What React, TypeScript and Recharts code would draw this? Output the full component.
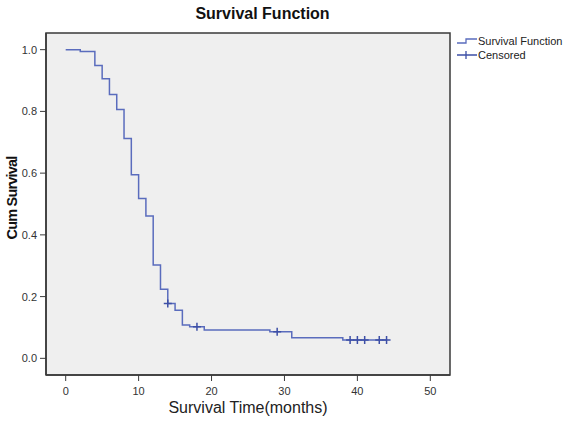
import React from 'react';
import { ComposedChart, Line, Scatter, XAxis, YAxis, ReferenceArea, Label } from 'recharts';

// Kaplan-Meier estimate: step times (months) and cumulative survival after each step
const times = [0, 2, 4, 5, 6, 7, 8, 9, 10, 11, 12, 13, 14, 15, 16, 17, 19, 28, 31, 38, 44];
const survival = [1.0, 0.994, 0.949, 0.906, 0.855, 0.806, 0.712, 0.595, 0.518, 0.461, 0.302, 0.224, 0.178, 0.156, 0.108, 0.102, 0.092, 0.086, 0.067, 0.059, 0.059];
const censoredTimes = [14, 18, 29, 39, 40, 41, 43, 44];

const xTicks = [0, 10, 20, 30, 40, 50];
const yTicks = [0, 0.2, 0.4, 0.6, 0.8, 1.0];
const xDomain: [number, number] = [-2.7, 52.7];
const yDomain: [number, number] = [-0.054, 1.054];

const LINE_COLOR = '#5a6cbd';
const CENSOR_COLOR = '#3d4fa6';
const AXIS_COLOR = '#3a3a3a';

const curve = times.map((t, i) => ({ t, s: survival[i] }));

// survival value in effect at time t (right-continuous step)
const survivalAt = (t: number) => {
  let s = survival[0];
  times.forEach((x, i) => {
    if (x <= t) s = survival[i];
  });
  return s;
};

const censored = censoredTimes.map((t) => ({ t, s: survivalAt(t) }));

const CensorMark = (props: any) => {
  const { cx, cy } = props;
  return (
    <path
      d={`M${cx - 4},${cy}H${cx + 4}M${cx},${cy - 4}V${cy + 4}`}
      stroke={CENSOR_COLOR}
      strokeWidth={1.5}
      fill="none"
    />
  );
};

const LegendBox = () => (
  <div style={{ position: 'absolute', left: 456, top: 34, fontSize: 11, color: '#222', lineHeight: '13px' }}>
    <div style={{ display: 'flex', alignItems: 'center', height: 14 }}>
      <svg width={22} height={10}>
        <path d="M1,7H10V3H21" stroke={LINE_COLOR} strokeWidth={1.3} fill="none" />
      </svg>
      <span>Survival Function</span>
    </div>
    <div style={{ display: 'flex', alignItems: 'center', height: 14 }}>
      <svg width={22} height={10}>
        <path d="M1,5H21M10,1V9" stroke={CENSOR_COLOR} strokeWidth={1.3} fill="none" />
      </svg>
      <span>Censored</span>
    </div>
  </div>
);

const App = () => {
  return (
    <div
      style={{
        position: 'absolute',
        left: 0,
        top: 0,
        width: 566,
        height: 422,
        background: '#fff',
        fontFamily: '"Liberation Sans", Arial, sans-serif',
      }}
    >
      <div
        style={{
          position: 'absolute',
          left: 0,
          top: 5,
          width: 525,
          textAlign: 'center',
          fontSize: 16,
          fontWeight: 'bold',
          color: '#111',
        }}
      >
        Survival Function
      </div>
      <LegendBox />
      <ComposedChart width={566} height={422} margin={{ top: 33, right: 116, bottom: 0, left: 0 }}>
        <ReferenceArea
          x1={xDomain[0]}
          x2={xDomain[1]}
          y1={yDomain[0]}
          y2={yDomain[1]}
          fill="#efefef"
          fillOpacity={1}
          stroke={AXIS_COLOR}
          strokeWidth={1.5}
          ifOverflow="visible"
        />
        <XAxis
          dataKey="t"
          type="number"
          domain={xDomain}
          ticks={xTicks}
          allowDataOverflow
          height={47}
          tickSize={6}
          tickMargin={6}
          axisLine={{ stroke: AXIS_COLOR, strokeWidth: 1.5 }}
          tickLine={{ stroke: AXIS_COLOR }}
          tick={{ fontSize: 11, fill: '#333' }}
        >
          <Label
            value="Survival Time(months)"
            position="insideBottom"
            offset={9}
            style={{ fontSize: 16, fill: '#222' }}
          />
        </XAxis>
        <YAxis
          dataKey="s"
          type="number"
          domain={yDomain}
          ticks={yTicks}
          allowDataOverflow
          width={46}
          tickSize={6}
          tickMargin={3}
          tickFormatter={(v: number) => v.toFixed(1)}
          axisLine={{ stroke: AXIS_COLOR, strokeWidth: 1.5 }}
          tickLine={{ stroke: AXIS_COLOR }}
          tick={{ fontSize: 11, fill: '#333' }}
        >
          <Label
            value="Cum Survival"
            angle={-90}
            position="insideLeft"
            offset={12}
            dy={-6}
            style={{ fontSize: 14.5, fontWeight: 'bold', fill: '#111', textAnchor: 'middle', letterSpacing: '-0.8px' }}
          />
        </YAxis>
        <Line
          data={curve}
          dataKey="s"
          type="stepAfter"
          stroke={LINE_COLOR}
          strokeWidth={1.5}
          dot={false}
          activeDot={false}
          isAnimationActive={false}
        />
        <Scatter data={censored} dataKey="s" shape={CensorMark} isAnimationActive={false} />
      </ComposedChart>
    </div>
  );
};

export default App;
